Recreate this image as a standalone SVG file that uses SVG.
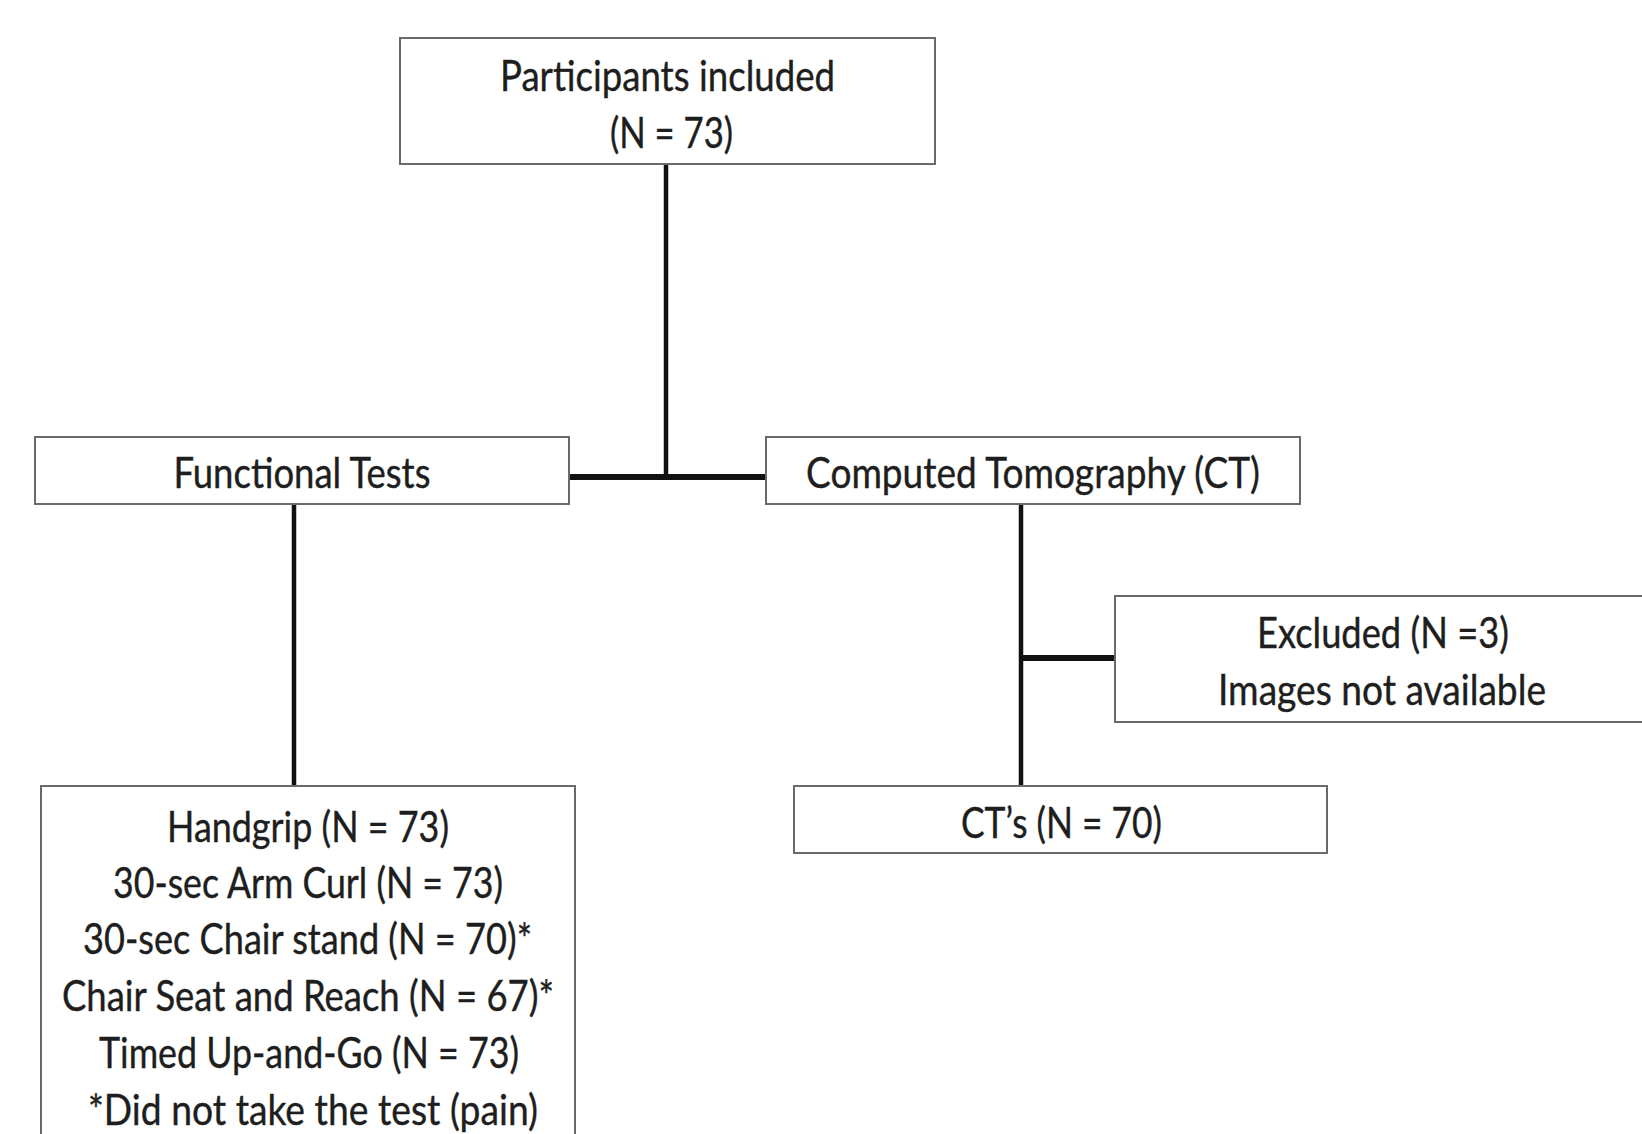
<svg xmlns="http://www.w3.org/2000/svg" width="1642" height="1134" viewBox="0 0 1642 1134">
<style>
.box{fill:#fff;stroke:#6a6a6a;stroke-width:2}
.t{font-family:"Lato","Open Sans","Liberation Sans",sans-serif;font-size:42px;fill:#1e1e1e;stroke:#1e1e1e;stroke-width:0.4;text-anchor:middle}
.v{stroke:#111;stroke-width:4.5;fill:none}
.h{stroke:#111;stroke-width:6;fill:none}
</style>
<rect width="1642" height="1134" fill="#fff"/>
<g id="connectors">
<line class="v" x1="666" y1="164" x2="666" y2="479"/>
<line class="h" x1="569" y1="477" x2="766" y2="477"/>
<line class="v" x1="294" y1="504" x2="294" y2="786"/>
<line class="v" x1="1021" y1="504" x2="1021" y2="786"/>
<line class="h" x1="1021" y1="658" x2="1115" y2="658"/>
</g>
<g id="participants">
<rect class="box" x="400" y="38" width="535" height="126"/>
<text class="t" x="667.5" y="91" textLength="335" lengthAdjust="spacingAndGlyphs">Participants included</text>
<text class="t" x="671.5" y="148" textLength="123" lengthAdjust="spacingAndGlyphs">(N = 73)</text>
</g>
<g id="functional">
<rect class="box" x="35" y="437" width="534" height="67"/>
<text class="t" x="302" y="488" textLength="257" lengthAdjust="spacingAndGlyphs">Functional Tests</text>
</g>
<g id="ct">
<rect class="box" x="766" y="437" width="534" height="67"/>
<text class="t" x="1033" y="488" textLength="454" lengthAdjust="spacingAndGlyphs">Computed Tomography (CT)</text>
</g>
<g id="excluded">
<rect class="box" x="1115" y="596" width="540" height="126"/>
<text class="t" x="1383" y="648" textLength="252" lengthAdjust="spacingAndGlyphs">Excluded (N =3)</text>
<text class="t" x="1382" y="705" textLength="328" lengthAdjust="spacingAndGlyphs">Images not available</text>
</g>
<g id="cts">
<rect class="box" x="794" y="786" width="533" height="67"/>
<text class="t" x="1061.5" y="838" textLength="201" lengthAdjust="spacingAndGlyphs">CT’s (N = 70)</text>
</g>
<g id="tests">
<rect class="box" x="41" y="786" width="534" height="370"/>
<text class="t" x="308" y="842" textLength="282" lengthAdjust="spacingAndGlyphs">Handgrip (N = 73)</text>
<text class="t" x="308" y="898" textLength="390" lengthAdjust="spacingAndGlyphs">30-sec Arm Curl (N = 73)</text>
<text class="t" x="307.5" y="954" textLength="449" lengthAdjust="spacingAndGlyphs">30-sec Chair stand (N = 70)*</text>
<text class="t" x="308" y="1011" textLength="492" lengthAdjust="spacingAndGlyphs">Chair Seat and Reach (N = 67)*</text>
<text class="t" x="309" y="1068" textLength="420" lengthAdjust="spacingAndGlyphs">Timed Up-and-Go (N = 73)</text>
<text class="t" x="313" y="1125" textLength="450" lengthAdjust="spacingAndGlyphs">*Did not take the test (pain)</text>
</g>
</svg>
